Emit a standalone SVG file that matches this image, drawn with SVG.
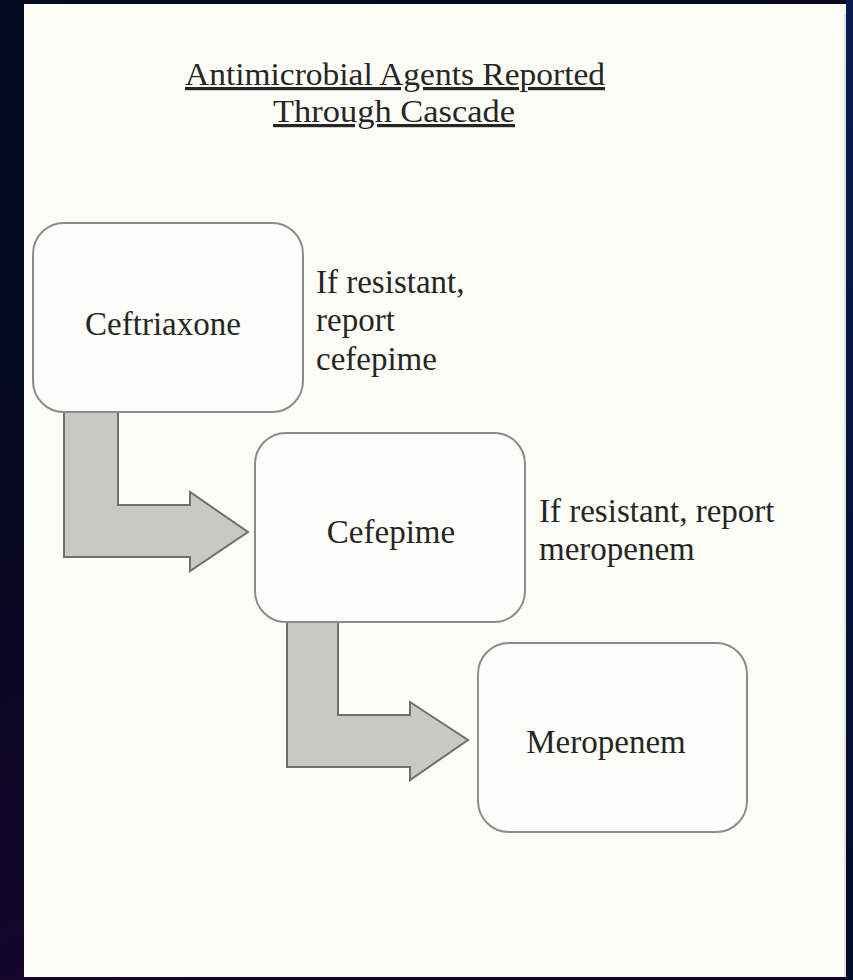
<svg xmlns="http://www.w3.org/2000/svg" width="853" height="980" viewBox="0 0 853 980">
  <defs>
    <linearGradient id="bg" x1="0" y1="0" x2="0.3" y2="1">
      <stop offset="0" stop-color="#020b1f"/>
      <stop offset="0.5" stop-color="#06081f"/>
      <stop offset="1" stop-color="#17062e"/>
    </linearGradient>
    <linearGradient id="bgr" x1="0" y1="0" x2="0" y2="1">
      <stop offset="0" stop-color="#0a1c52"/>
      <stop offset="1" stop-color="#020c2a"/>
    </linearGradient>
    <style>
      .box { fill: #fdfdf9; stroke: #8c8c8a; stroke-width: 2; }
      .arrow { fill: #c9c9c4; stroke: #6f6f6d; stroke-width: 2; stroke-linejoin: miter; }
      .t { font-family: "Liberation Serif", "Times New Roman", serif; font-size: 33px; fill: #262626; }
      .title { font-family: "Liberation Serif", "Times New Roman", serif; font-size: 32px; fill: #262626; text-anchor: middle; text-decoration: underline; }
      .mid { text-anchor: middle; }
    </style>
  </defs>
  <rect x="0" y="0" width="853" height="980" fill="url(#bg)"/>
  <rect x="846" y="0" width="7" height="980" fill="url(#bgr)"/>
  <rect x="24" y="4" width="822" height="973" fill="#fdfdf8"/>
  <line x1="845" y1="14" x2="845" y2="977" stroke="#d8d8d4" stroke-width="1.5"/>

  <g id="title">
    <text class="title" x="395" y="85" textLength="420" lengthAdjust="spacingAndGlyphs">Antimicrobial Agents Reported</text>
    <text class="title" x="394" y="122" textLength="242" lengthAdjust="spacingAndGlyphs">Through Cascade</text>
  </g>

  <g id="connectors">
    <polygon class="arrow" points="64,412 118,412 118,505 190,505 190,492 248,532 190,571 190,557 64,557"/>
    <polygon class="arrow" points="287,622 338,622 338,715 410,715 410,702 468,740 410,780 410,767 287,767"/>
  </g>

  <g id="ceftriaxone">
    <rect class="box" x="33" y="223" width="270" height="189" rx="31" ry="31"/>
    <text class="t mid" x="163" y="335">Ceftriaxone</text>
  </g>
  <g id="cefepime">
    <rect class="box" x="255" y="433" width="270" height="189" rx="31" ry="31"/>
    <text class="t mid" x="391" y="543">Cefepime</text>
  </g>
  <g id="meropenem">
    <rect class="box" x="478" y="643" width="269" height="189" rx="31" ry="31"/>
    <text class="t mid" x="606" y="753">Meropenem</text>
  </g>

  <g id="label1">
    <text class="t" x="316" y="293">If resistant,</text>
    <text class="t" x="316" y="331">report</text>
    <text class="t" x="316" y="370">cefepime</text>
  </g>
  <g id="label2">
    <text class="t" x="539" y="522">If resistant, report</text>
    <text class="t" x="539" y="560">meropenem</text>
  </g>
</svg>
